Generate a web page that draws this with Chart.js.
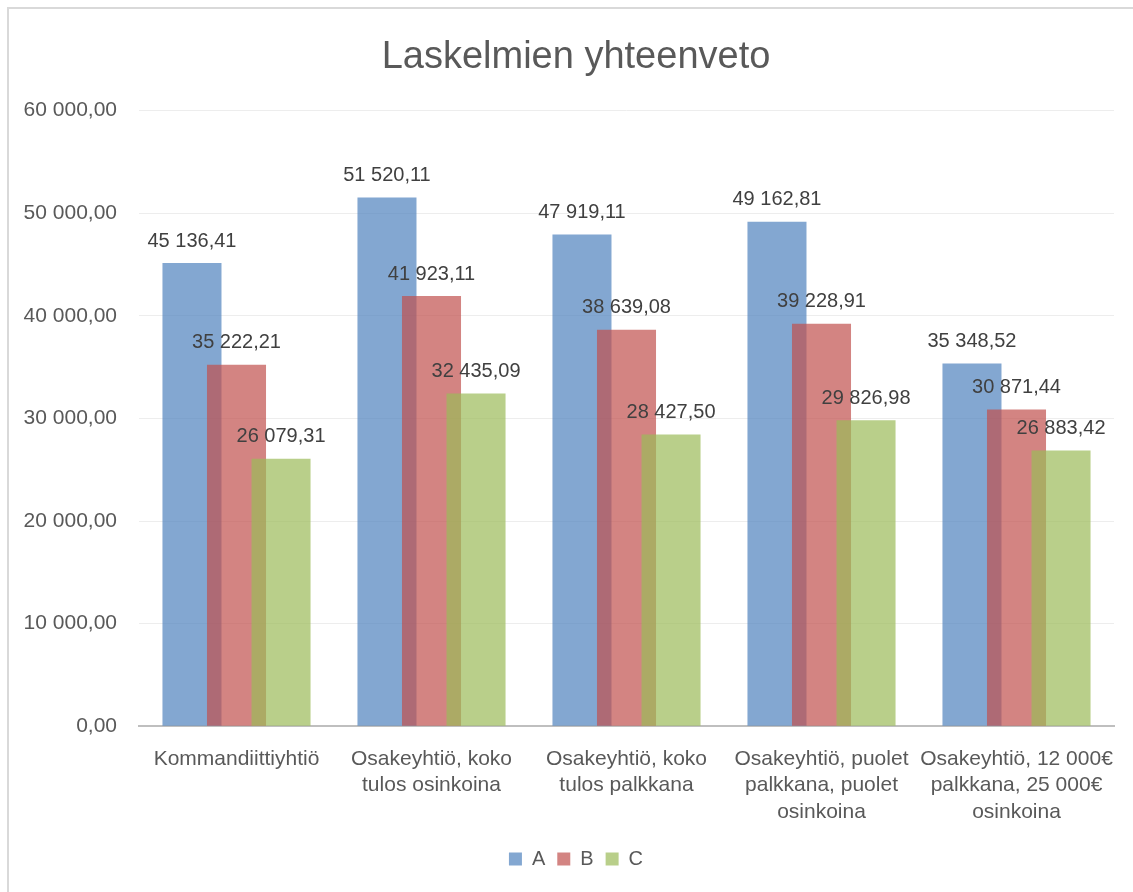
<!DOCTYPE html>
<html>
<head>
<meta charset="utf-8">
<script src="https://cdn.jsdelivr.net/npm/chart.js@4/dist/chart.umd.min.js"></script>
<style>
  html, body { margin: 0; padding: 0; background: #fff; overflow: hidden; }
  #wrap { width: 1133px; height: 892px; }
</style>
</head>
<body>
<div id="wrap"><canvas id="chart" width="1133" height="892"></canvas></div>
<script>
// Datos del gráfico
const categorias = [
    'Kommandiittiyhtiö',
    ['Osakeyhtiö, koko', 'tulos osinkoina'],
    ['Osakeyhtiö, koko', 'tulos palkkana'],
    ['Osakeyhtiö, puolet', 'palkkana, puolet', 'osinkoina'],
    ['Osakeyhtiö, 12 000€', 'palkkana, 25 000€', 'osinkoina']
];
const serieA = [45136.41, 51520.11, 47919.11, 49162.81, 35348.52];
const serieB = [35222.21, 41923.11, 38639.08, 39228.91, 30871.44];
const serieC = [26079.31, 32435.09, 28427.50, 29826.98, 26883.42];
const nombresSeries = ['A', 'B', 'C'];
const yMin = 0, yMax = 60000, yPaso = 10000;

const FUENTE = '"Liberation Sans", Arial, sans-serif';
const GRIS = '#595959';

// Formato finlandés: 45 136,41
function formatoFi(v) {
    const partes = v.toFixed(2).split('.');
    const entero = partes[0].replace(/\B(?=(\d{3})+(?!\d))/g, ' ');
    return entero + ',' + partes[1];
}

// Dibujar las series en orden (la última queda encima, como en Excel)
const ordenExcel = {
    id: 'ordenExcel',
    beforeDatasetsDraw(chart) {
        if (typeof chart._drawDataset !== 'function') return;
        const metas = chart.getSortedVisibleDatasetMetas().slice().sort((a, b) => a.index - b.index);
        metas.forEach(meta => chart._drawDataset(meta));
        return false;
    }
};

// Las etiquetas del eje Y sobresalen a la izquierda: ampliar su zona de recorte
const ampliarEjeY = {
    id: 'ampliarEjeY',
    afterLayout(chart) {
        chart.scales.y.left = 0;
    }
};

// Etiquetas de valores sobre las barras
const etiquetasValores = {
    id: 'etiquetasValores',
    afterDraw(chart) {
        const ctx = chart.ctx;
        ctx.save();
        ctx.font = '20px ' + FUENTE;
        ctx.fillStyle = '#404040';
        ctx.textAlign = 'center';
        ctx.textBaseline = 'bottom';
        chart.data.datasets.forEach((ds, i) => {
            const meta = chart.getDatasetMeta(i);
            meta.data.forEach((bar, j) => {
                ctx.fillText(formatoFi(ds.data[j]), bar.x, bar.y - 12);
            });
        });
        ctx.restore();
    }
};

// Marco exterior
const marco = {
    id: 'marco',
    beforeDraw(chart) {
        const ctx = chart.ctx;
        ctx.save();
        ctx.strokeStyle = '#d9d9d9';
        ctx.lineWidth = 2;
        ctx.strokeRect(8, 8, 1300, 1000);
        ctx.restore();
    }
};

const ctx = document.getElementById('chart').getContext('2d');
new Chart(ctx, {
    type: 'bar',
    data: {
        labels: categorias,
        datasets: [
            { label: nombresSeries[0], data: serieA, backgroundColor: 'rgba(79,129,189,0.7)' },
            { label: nombresSeries[1], data: serieB, backgroundColor: 'rgba(192,80,77,0.7)' },
            { label: nombresSeries[2], data: serieC, backgroundColor: 'rgba(155,187,89,0.7)' }
        ]
    },
    options: {
        responsive: false,
        animation: false,
        devicePixelRatio: 1,
        categoryPercentage: 0.685,
        barPercentage: 1.326,
        layout: { padding: { left: 38, right: 19, top: 19, bottom: 13 } },
        plugins: {
            title: {
                display: true,
                text: 'Laskelmien yhteenveto',
                color: GRIS,
                font: { family: FUENTE, size: 38, weight: 'normal' },
                padding: { top: 16, bottom: 30 }
            },
            legend: {
                position: 'bottom',
                labels: {
                    color: GRIS,
                    font: { family: FUENTE, size: 20 },
                    boxWidth: 13,
                    boxHeight: 13,
                    padding: 12
                }
            },
            tooltip: { enabled: false }
        },
        scales: {
            x: {
                grid: { display: false },
                border: { color: '#bfbfbf', width: 2 },
                ticks: {
                    color: GRIS,
                    font: { family: FUENTE, size: 21, lineHeight: 1.25 },
                    maxRotation: 0,
                    autoSkip: false,
                    padding: 12
                }
            },
            y: {
                min: yMin,
                max: yMax,
                grid: { color: '#ededed', lineWidth: 1, drawTicks: false },
                border: { display: false },
                afterFit(scale) {
                    scale.width = 101;
                },
                ticks: {
                    stepSize: yPaso,
                    color: GRIS,
                    font: { family: FUENTE, size: 21 },
                    padding: 22,
                    callback: v => formatoFi(v)
                }
            }
        }
    },
    plugins: [marco, ampliarEjeY, ordenExcel, etiquetasValores]
});
</script>
</body>
</html>
